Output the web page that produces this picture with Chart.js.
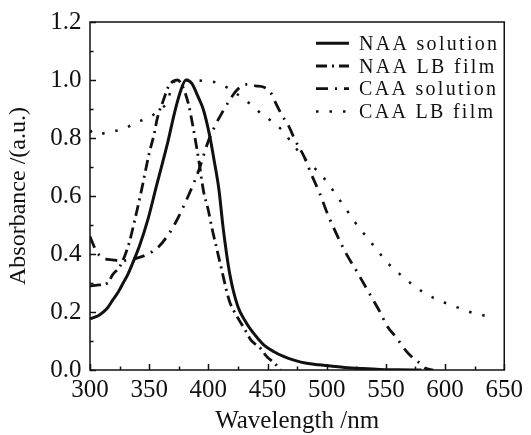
<!DOCTYPE html>
<html>
<head>
<meta charset="utf-8">
<title>Absorbance spectra</title>
<script src="https://cdn.jsdelivr.net/npm/chart.js@4/dist/chart.umd.min.js"></script>
<style>
    html, body { margin: 0; padding: 0; background: #fff; }
    #chart { display: block; }
</style>
</head>
<body>
<canvas id="chart" width="531" height="435"></canvas>
<script>
// Values
var xTicks = [300, 350, 400, 450, 500, 550, 600, 650];
var yTicks = [0.0, 0.2, 0.4, 0.6, 0.8, 1.0, 1.2];
var seriesLabels = ['NAA solution', 'NAA LB film', 'CAA solution', 'CAA LB film'];

var naaSolWl  = [300, 304, 308, 314, 319, 324, 328, 332, 336, 342, 349, 356, 361, 366, 371, 376, 381, 386, 391, 396, 401, 405, 409, 412.5, 418, 425, 431, 436, 442, 447, 455, 464, 473, 483, 493, 503, 515, 530, 545, 560, 580];
var naaSolAbs = [0.176, 0.182, 0.19, 0.21, 0.24, 0.27, 0.30, 0.33, 0.368, 0.43, 0.52, 0.632, 0.71, 0.79, 0.88, 0.955, 1.0, 0.988, 0.945, 0.895, 0.81, 0.72, 0.62, 0.49, 0.333, 0.218, 0.17, 0.138, 0.108, 0.086, 0.064, 0.046, 0.033, 0.023, 0.018, 0.014, 0.009, 0.005, 0.002, 0.001, 0.0];

var naaLbWl  = [300, 306, 315, 319, 325, 329, 333, 338, 343, 350, 354, 357, 362, 366, 370, 374, 378, 383, 387, 392, 396, 400, 403, 407, 411, 415, 418, 422, 426, 431, 436, 444, 449, 456, 461];
var naaLbAbs = [0.29, 0.293, 0.30, 0.328, 0.356, 0.39, 0.437, 0.52, 0.61, 0.747, 0.81, 0.87, 0.93, 0.975, 0.995, 1.0, 0.98, 0.92, 0.84, 0.72, 0.615, 0.55, 0.49, 0.42, 0.35, 0.28, 0.235, 0.20, 0.172, 0.138, 0.103, 0.075, 0.048, 0.023, 0.0];

var caaSolWl  = [300, 303, 306, 312, 319, 326, 333, 339, 349, 358, 365, 372, 383, 392, 400, 406, 412, 419, 424, 433, 440, 447, 453, 457, 462, 468, 473, 481, 487, 494, 501, 506, 512, 518, 525, 531, 538, 545, 551, 559, 567, 575, 580, 583, 590];
var caaSolAbs = [0.46, 0.43, 0.405, 0.385, 0.38, 0.376, 0.38, 0.385, 0.40, 0.425, 0.46, 0.506, 0.60, 0.69, 0.79, 0.845, 0.89, 0.937, 0.965, 0.985, 0.98, 0.975, 0.954, 0.92, 0.88, 0.84, 0.795, 0.735, 0.675, 0.61, 0.535, 0.489, 0.437, 0.39, 0.343, 0.30, 0.25, 0.20, 0.152, 0.111, 0.066, 0.034, 0.02, 0.007, 0.0];

var caaLbWl  = [300, 303, 313, 322, 329, 338, 348, 357, 361, 365, 368, 372, 380, 392, 403, 413, 423, 433, 442, 453, 463, 470, 478, 490, 500, 508, 516, 524, 533, 542, 551, 561, 571, 581, 591, 601, 611, 621, 631, 641];
var caaLbAbs = [0.82, 0.828, 0.815, 0.825, 0.832, 0.852, 0.868, 0.89, 0.905, 0.92, 0.96, 0.997, 1.0, 0.998, 0.995, 0.98, 0.955, 0.925, 0.893, 0.859, 0.824, 0.786, 0.744, 0.695, 0.65, 0.603, 0.557, 0.509, 0.462, 0.417, 0.371, 0.333, 0.299, 0.27, 0.247, 0.23, 0.215, 0.20, 0.19, 0.178];

var INK = '#111';
var SERIF = '"Liberation Serif", "Times New Roman", serif';

function toPoints(xs, ys) {
    return xs.map(function(x, i) { return { x: x, y: ys[i] }; });
}

function lineSet(label, xs, ys, dash, width) {
    return {
        label: label,
        data: toPoints(xs, ys),
        borderColor: INK,
        borderWidth: width,
        borderDash: dash,
        borderCapStyle: 'butt',
        pointRadius: 0,
        fill: false,
        cubicInterpolationMode: 'monotone'
    };
}

// Frame, inward ticks and the legend box inside the plot
var framePlugin = {
    id: 'frame',
    afterDraw: function(chart) {
        var ctx = chart.ctx;
        var area = chart.chartArea;
        var xs = chart.scales.x;
        var ys = chart.scales.y;
        var v, px, len;

        ctx.save();
        ctx.strokeStyle = INK;
        ctx.lineWidth = 1.5;
        ctx.setLineDash([]);
        ctx.strokeRect(area.left, area.top, area.right - area.left, area.bottom - area.top);

        // x ticks every 25 nm, longer on the labelled ones
        for (v = xTicks[0]; v <= xTicks[xTicks.length - 1]; v += 25) {
            px = Math.round(xs.getPixelForValue(v)) + 0.5;
            len = (v % 50 === 0) ? 6 : 3.5;
            ctx.beginPath();
            ctx.moveTo(px, area.bottom);
            ctx.lineTo(px, area.bottom - len);
            ctx.stroke();
        }
        // y ticks every 0.1
        for (var i = 0; i <= 12; i++) {
            px = Math.round(ys.getPixelForValue(i / 10)) + 0.5;
            len = (i % 2 === 0) ? 6 : 3.5;
            ctx.beginPath();
            ctx.moveTo(area.left, px);
            ctx.lineTo(area.left + len, px);
            ctx.stroke();
        }

        // legend
        var rowY = [43.3, 66, 88.7, 111.5];
        ctx.font = '20px ' + SERIF;
        ctx.fillStyle = INK;
        ctx.textBaseline = 'alphabetic';
        ctx.textAlign = 'left';
        chart.data.datasets.forEach(function(ds, k) {
            var y = rowY[k];
            ctx.beginPath();
            ctx.lineWidth = ds.borderWidth;
            ctx.setLineDash(ds.borderDash);
            ctx.moveTo(316, y);
            ctx.lineTo(349, y);
            ctx.stroke();
            ctx.letterSpacing = '2.3px';
            ctx.fillText(ds.label, 359, y + 6.7);
            ctx.letterSpacing = '0px';
        });
        ctx.restore();
    }
};

new Chart(document.getElementById('chart'), {
    type: 'line',
    data: {
        datasets: [
            lineSet(seriesLabels[0], naaSolWl, naaSolAbs, [], 3),
            lineSet(seriesLabels[1], naaLbWl, naaLbAbs, [11, 5, 2, 5], 2.8),
            lineSet(seriesLabels[2], caaSolWl, caaSolAbs, [12, 7, 2, 7], 2.8),
            lineSet(seriesLabels[3], caaLbWl, caaLbAbs, [2.5, 11], 2.5)
        ]
    },
    options: {
        responsive: false,
        animation: false,
        devicePixelRatio: 1,
        layout: { padding: { left: 0, right: 21, top: 22, bottom: 0 } },
        plugins: {
            legend: { display: false },
            tooltip: { enabled: false }
        },
        scales: {
            x: {
                type: 'linear',
                min: xTicks[0],
                max: xTicks[xTicks.length - 1],
                afterFit: function(scale) { scale.height = 65; },
                afterBuildTicks: function(scale) {
                    scale.ticks = xTicks.map(function(v) { return { value: v }; });
                },
                grid: { display: false, drawTicks: false },
                border: { display: false },
                ticks: {
                    padding: 8,
                    color: INK,
                    font: { family: SERIF, size: 25, lineHeight: 1 }
                },
                title: {
                    display: true,
                    text: 'Wavelength /nm',
                    color: INK,
                    padding: { top: 0, bottom: 1 },
                    font: { family: SERIF, size: 25, lineHeight: 1 }
                }
            },
            y: {
                min: yTicks[0],
                max: yTicks[yTicks.length - 1],
                afterFit: function(scale) { scale.width = 90; },
                afterBuildTicks: function(scale) {
                    scale.ticks = yTicks.map(function(v) { return { value: v }; });
                },
                grid: { display: false, drawTicks: false },
                border: { display: false },
                ticks: {
                    padding: 8.5,
                    color: INK,
                    font: { family: SERIF, size: 25, lineHeight: 1 },
                    callback: function(v) { return Number(v).toFixed(1); }
                },
                title: {
                    display: true,
                    text: 'Absorbance /(a.u.)',
                    color: INK,
                    padding: { top: 7, bottom: 0 },
                    font: { family: SERIF, size: 24, lineHeight: 1 }
                }
            }
        }
    },
    plugins: [framePlugin]
});
</script>
</body>
</html>
